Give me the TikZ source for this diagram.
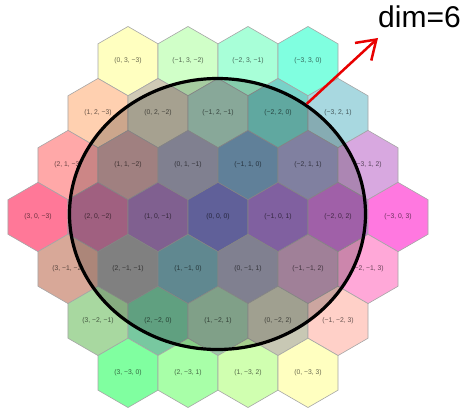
\documentclass[tikz,border=0pt]{standalone}
\usepackage{fontspec}
\setmainfont{Liberation Sans}
\usepackage{xcolor}
\usepackage{tikz}
\usetikzlibrary{arrows.meta,shapes.geometric}
% ring 3, top and bottom rows
\definecolor{cq0r3}{HTML}{FFFFC0}
\definecolor{cqm1r3}{HTML}{D0FFC8}
\definecolor{cqm2r3}{HTML}{A8FFD8}
\definecolor{cqm3r3}{HTML}{80FFE0}
\definecolor{cqp3rm3}{HTML}{80FFA0}
\definecolor{cqp2rm3}{HTML}{A8FFA8}
\definecolor{cqp1rm3}{HTML}{D0FFB0}
\definecolor{cq0rm3}{HTML}{FFFFC0}
% ring 3, sides
\definecolor{cqp1r2}{HTML}{FFD0B0}
\definecolor{cqm3r2}{HTML}{A8D8E0}
\definecolor{cqp2r1}{HTML}{FFA8A8}
\definecolor{cqm3r1}{HTML}{D8A8E0}
\definecolor{cqp3r0}{HTML}{FF7898}
\definecolor{cqm3r0}{HTML}{FF78E0}
\definecolor{cqp3rm1}{HTML}{D8A898}
\definecolor{cqm2rm1}{HTML}{FFA8D8}
\definecolor{cqp3rm2}{HTML}{A8D8A0}
\definecolor{cqm1rm2}{HTML}{FFD0C8}
% inner hexes
\definecolor{cq0r2}{HTML}{D0CAB5}
\definecolor{cqm1r2}{HTML}{AAD2C0}
\definecolor{cqm2r2}{HTML}{78D2C8}
\definecolor{cqp1r1}{HTML}{C8A0A0}
\definecolor{cq0r1}{HTML}{A0A0B4}
\definecolor{cqm1r1}{HTML}{78A0C0}
\definecolor{cqm2r1}{HTML}{A0A0C8}
\definecolor{cqp2r0}{HTML}{C878A0}
\definecolor{cqp1r0}{HTML}{A078B4}
\definecolor{cq0r0}{HTML}{7878C0}
\definecolor{cqm1r0}{HTML}{A078C8}
\definecolor{cqm2r0}{HTML}{C878D2}
\definecolor{cqp2rm1}{HTML}{A0A0A0}
\definecolor{cqp1rm1}{HTML}{78AAB4}
\definecolor{cq0rm1}{HTML}{A0A0B4}
\definecolor{cqm1rm1}{HTML}{C8A0BE}
\definecolor{cqp2rm2}{HTML}{78C8A0}
\definecolor{cqp1rm2}{HTML}{A0C8AA}
\definecolor{cq0rm2}{HTML}{C8C8B4}
\definecolor{dimRed}{HTML}{E80000}

\begin{document}
\begin{tikzpicture}[
  x=30pt, y=51.96pt,
  hx/.style={regular polygon,regular polygon sides=6,shape border rotate=30,
             minimum size=69.28pt,inner sep=0pt,draw=black!35,line width=0.6pt,
             font=\fontsize{6.8}{8}\selectfont,text opacity=0.6},
]
  \useasboundingbox (-218pt,-190pt) rectangle (250pt,217pt);

  % r = 3
  \node[hx,fill=cq0r3]   (q0r3)   at (-3,3) {(0, 3, −3)};
  \node[hx,fill=cqm1r3]  (qm1r3)  at (-1,3) {(−1, 3, −2)};
  \node[hx,fill=cqm2r3]  (qm2r3)  at (1,3)  {(−2, 3, −1)};
  \node[hx,fill=cqm3r3]  (qm3r3)  at (3,3)  {(−3, 3, 0)};
  % r = 2
  \node[hx,fill=cqp1r2]  (qp1r2)  at (-4,2) {(1, 2, −3)};
  \node[hx,fill=cq0r2]   (q0r2)   at (-2,2) {(0, 2, −2)};
  \node[hx,fill=cqm1r2]  (qm1r2)  at (0,2)  {(−1, 2, −1)};
  \node[hx,fill=cqm2r2]  (qm2r2)  at (2,2)  {(−2, 2, 0)};
  \node[hx,fill=cqm3r2]  (qm3r2)  at (4,2)  {(−3, 2, 1)};
  % r = 1
  \node[hx,fill=cqp2r1]  (qp2r1)  at (-5,1) {(2, 1, −3)};
  \node[hx,fill=cqp1r1]  (qp1r1)  at (-3,1) {(1, 1, −2)};
  \node[hx,fill=cq0r1]   (q0r1)   at (-1,1) {(0, 1, −1)};
  \node[hx,fill=cqm1r1]  (qm1r1)  at (1,1)  {(−1, 1, 0)};
  \node[hx,fill=cqm2r1]  (qm2r1)  at (3,1)  {(−2, 1, 1)};
  \node[hx,fill=cqm3r1]  (qm3r1)  at (5,1)  {(−3, 1, 2)};
  % r = 0
  \node[hx,fill=cqp3r0]  (qp3r0)  at (-6,0) {(3, 0, −3)};
  \node[hx,fill=cqp2r0]  (qp2r0)  at (-4,0) {(2, 0, −2)};
  \node[hx,fill=cqp1r0]  (qp1r0)  at (-2,0) {(1, 0, −1)};
  \node[hx,fill=cq0r0]   (q0r0)   at (0,0)  {(0, 0, 0)};
  \node[hx,fill=cqm1r0]  (qm1r0)  at (2,0)  {(−1, 0, 1)};
  \node[hx,fill=cqm2r0]  (qm2r0)  at (4,0)  {(−2, 0, 2)};
  \node[hx,fill=cqm3r0]  (qm3r0)  at (6,0)  {(−3, 0, 3)};
  % r = -1
  \node[hx,fill=cqp3rm1] (qp3rm1) at (-5,-1) {(3, −1, −2)};
  \node[hx,fill=cqp2rm1] (qp2rm1) at (-3,-1) {(2, −1, −1)};
  \node[hx,fill=cqp1rm1] (qp1rm1) at (-1,-1) {(1, −1, 0)};
  \node[hx,fill=cq0rm1]  (q0rm1)  at (1,-1)  {(0, −1, 1)};
  \node[hx,fill=cqm1rm1] (qm1rm1) at (3,-1)  {(−1, −1, 2)};
  \node[hx,fill=cqm2rm1] (qm2rm1) at (5,-1)  {(−2, −1, 3)};
  % r = -2
  \node[hx,fill=cqp3rm2] (qp3rm2) at (-4,-2) {(3, −2, −1)};
  \node[hx,fill=cqp2rm2] (qp2rm2) at (-2,-2) {(2, −2, 0)};
  \node[hx,fill=cqp1rm2] (qp1rm2) at (0,-2)  {(1, −2, 1)};
  \node[hx,fill=cq0rm2]  (q0rm2)  at (2,-2)  {(0, −2, 2)};
  \node[hx,fill=cqm1rm2] (qm1rm2) at (4,-2)  {(−1, −2, 3)};
  % r = -3
  \node[hx,fill=cqp3rm3] (qp3rm3) at (-3,-3) {(3, −3, 0)};
  \node[hx,fill=cqp2rm3] (qp2rm3) at (-1,-3) {(2, −3, 1)};
  \node[hx,fill=cqp1rm3] (qp1rm3) at (1,-3)  {(1, −3, 2)};
  \node[hx,fill=cq0rm3]  (q0rm3)  at (3,-3)  {(0, −3, 3)};

  % the round range and its label
  \node[ellipse,minimum width=296pt,minimum height=271pt,draw=black,
        line width=3.2pt,fill=black,fill opacity=0.2] (circ) at (-0.5pt,3pt) {};
  \node[anchor=base west,inner sep=0pt,font=\fontsize{30}{34}\selectfont]
        (dim) at (160pt,189pt) {dim=6};
  \coordinate (tip) at (160pt,179pt);

  \draw[dimRed,line width=2.5pt,-{Straight Barb[length=18pt,width=24pt]}]
        (circ.51) -- (tip);
\end{tikzpicture}
\end{document}
